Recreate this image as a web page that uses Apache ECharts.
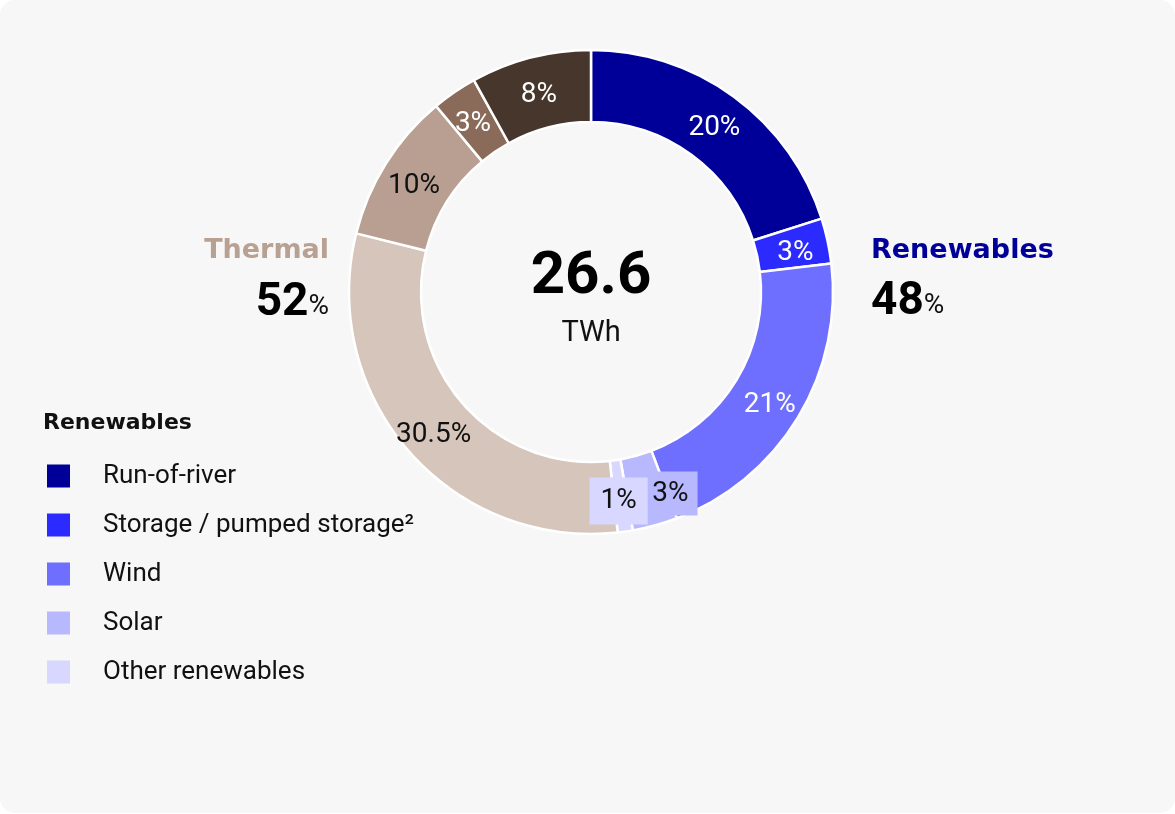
<!DOCTYPE html>
<html>
<head>
<meta charset="utf-8">
<script src="https://cdn.jsdelivr.net/npm/echarts@6/dist/echarts.min.js"></script>
<style>
  html, body { margin: 0; padding: 0; background: #ffffff; }
  #chart { width: 1175px; height: 813px; background: #f7f7f7; border-radius: 15px; overflow: hidden; }
</style>
</head>
<body>
<div id="chart"></div>
<script>
// Data
const categories = ['Run-of-river', 'Storage / pumped storage²', 'Wind', 'Solar', 'Other renewables',
                    'Thermal A', 'Thermal B', 'Thermal C', 'Thermal D'];
const values = [20, 3, 21, 3, 1, 30.5, 10, 3, 8];
const sliceLabels = ['20%', '3%', '21%', '3%', '1%', '30.5%', '10%', '3%', '8%'];
const colors = ['#000099', '#2b2bff', '#6e6eff', '#b8b8ff', '#d7d7ff',
                '#d6c5bb', '#b89f91', '#8a6a58', '#47362b'];
const labelColors = ['#ffffff', '#ffffff', '#ffffff', '#111111', '#111111',
                     '#111111', '#111111', '#ffffff', '#ffffff'];
const legendNames = ['Run-of-river', 'Storage / pumped storage²', 'Wind', 'Solar', 'Other renewables'];
const totalValue = '26.6';
const totalUnit = 'TWh';
const groupThermal = { name: 'Thermal', share: '52' };
const groupRenew = { name: 'Renewables', share: '48' };

const FONT = 'Roboto, "Noto Sans", sans-serif';
const HEAD = '"DejaVu Sans", sans-serif';

const data = categories.map((c, i) => {
  const d = {
    name: c,
    value: values[i],
    itemStyle: { color: colors[i] },
    label: { color: labelColors[i], offset: [0, 5] }
  };
  if (i === 4) {
    d.label.backgroundColor = '#d7d7ff';
    d.label.padding = [10, 11, 9, 11];
    d.label.offset = [-2, 2];
  }
  if (i === 3) {
    d.label.backgroundColor = '#b8b8ff';
    d.label.padding = [8, 9, 8, 9];
    d.label.offset = [24, 0];
  }
  return d;
});

const chart = echarts.init(document.getElementById('chart'), null, { renderer: 'canvas' });
chart.setOption({
  backgroundColor: 'transparent',
  animation: false,
  legend: {
    data: legendNames,
    orient: 'vertical',
    left: 47,
    top: 463,
    padding: 0,
    icon: 'rect',
    itemWidth: 23,
    itemHeight: 23,
    itemGap: 23,
    selectedMode: false,
    itemStyle: { borderWidth: 0 },
    textStyle: { fontFamily: FONT, fontSize: 26, color: '#111111', padding: [0, 0, 0, 28] }
  },
  series: [{
    type: 'pie',
    center: [591, 292],
    radius: [170, 242],
    startAngle: 90,
    clockwise: true,
    avoidLabelOverlap: false,
    itemStyle: { borderColor: '#ffffff', borderWidth: 2.5 },
    label: {
      show: true,
      position: 'inside',
      fontFamily: FONT,
      fontSize: 28,
      formatter: p => sliceLabels[p.dataIndex]
    },
    labelLayout: { hideOverlap: false },
    labelLine: { show: false },
    emphasis: { disabled: true },
    data: data
  }],
  graphic: [
    { type: 'text', x: 591, y: 278, style: { text: totalValue, font: 'bold 60px ' + FONT, fill: '#000', textAlign: 'center', textVerticalAlign: 'middle' } },
    { type: 'text', x: 591, y: 334, style: { text: totalUnit, font: '29px ' + FONT, fill: '#111', textAlign: 'center', textVerticalAlign: 'middle' } },
    { type: 'text', x: 329, y: 251, style: { text: groupThermal.name, font: 'bold 27px ' + HEAD, fill: '#b8a193', textAlign: 'right', textVerticalAlign: 'middle' } },
    { type: 'text', x: 329, y: 303, style: {
        text: '{b|' + groupThermal.share + '}{p|%}', textAlign: 'right', textVerticalAlign: 'middle',
        rich: { b: { font: 'bold 46px ' + FONT, fill: '#000' }, p: { font: '28px ' + FONT, fill: '#111', padding: [8, 0, 0, 0] } } } },
    { type: 'text', x: 871, y: 251, style: { text: groupRenew.name, font: 'bold 27px ' + HEAD, fill: '#000099', textAlign: 'left', textVerticalAlign: 'middle' } },
    { type: 'text', x: 871, y: 302, style: {
        text: '{b|' + groupRenew.share + '}{p|%}', textAlign: 'left', textVerticalAlign: 'middle',
        rich: { b: { font: 'bold 46px ' + FONT, fill: '#000' }, p: { font: '28px ' + FONT, fill: '#111', padding: [8, 0, 0, 0] } } } },
    { type: 'text', x: 43, y: 423, style: { text: 'Renewables', font: 'bold 22px ' + HEAD, fill: '#111', textAlign: 'left', textVerticalAlign: 'middle' } }
  ]
});
</script>
</body>
</html>
